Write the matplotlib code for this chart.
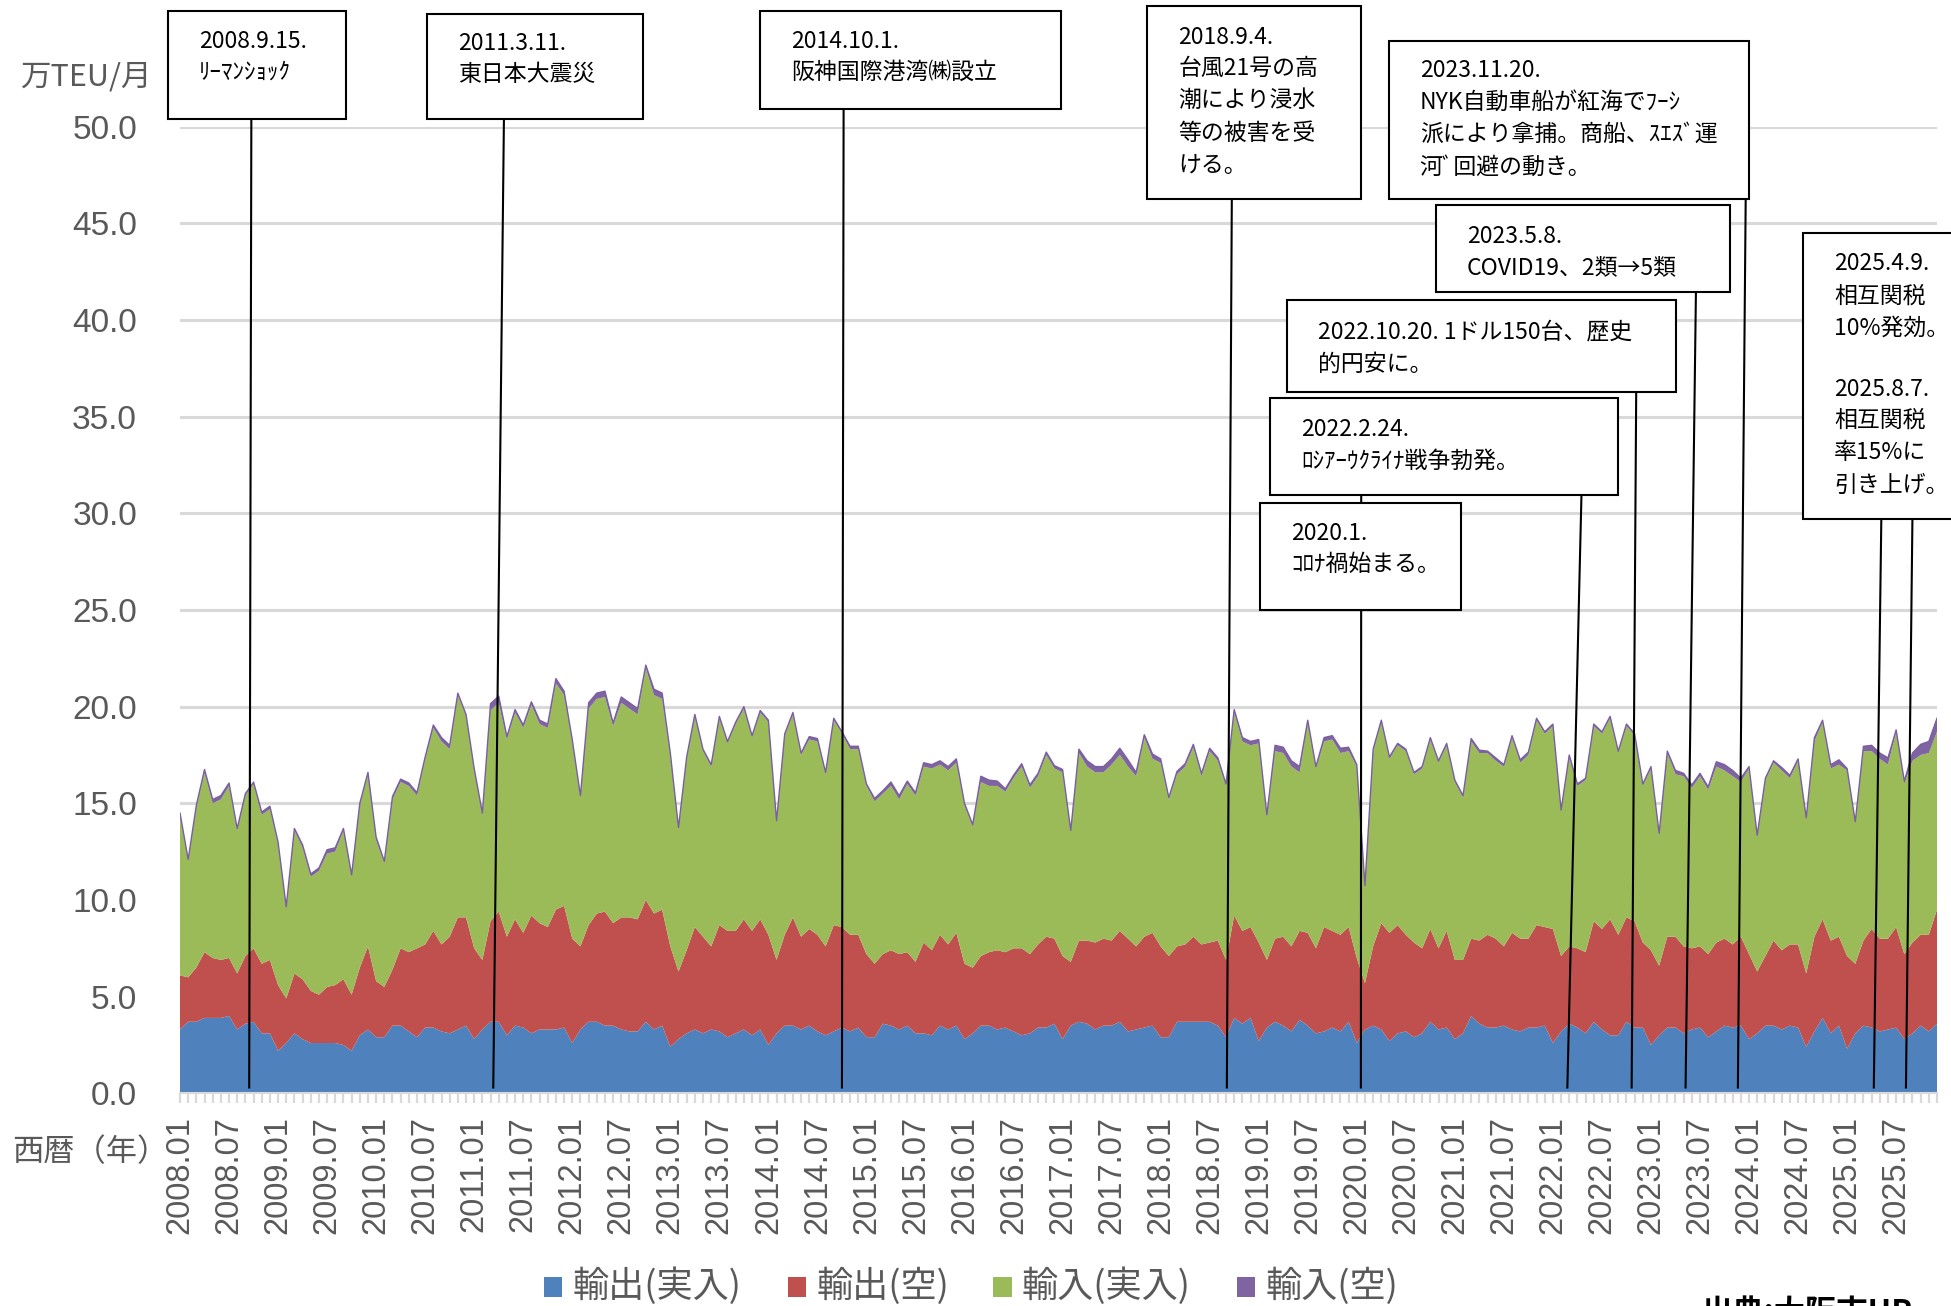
import matplotlib
matplotlib.use('Agg')
import matplotlib.pyplot as plt
from matplotlib.patches import Rectangle
from matplotlib.lines import Line2D
import numpy as np

plt.rcParams['font.family'] = ['Noto Sans CJK JP', 'DejaVu Sans']

# ---------------- data (万TEU/月) ----------------
months = [f"{y}.{m:02d}" for y in range(2008, 2026) for m in range(1, 13)]

export_full = [
    3.3, 3.7, 3.7, 3.9, 3.9, 3.9, 4.0, 3.3, 3.6, 3.7, 3.1, 3.1,
    2.2, 2.6, 3.1, 2.8, 2.6, 2.6, 2.6, 2.6, 2.5, 2.2, 3.0, 3.3,
    2.9, 2.9, 3.5, 3.5, 3.2, 2.9, 3.4, 3.4, 3.2, 3.1, 3.3, 3.5,
    2.8, 3.3, 3.7, 3.7, 3.0, 3.5, 3.4, 3.1, 3.3, 3.3, 3.3, 3.4,
    2.6, 3.3, 3.7, 3.7, 3.5, 3.5, 3.3, 3.2, 3.2, 3.7, 3.3, 3.5,
    2.4, 2.8, 3.1, 3.3, 3.1, 3.3, 3.2, 2.9, 3.1, 3.3, 3.0, 3.3,
    2.5, 3.1, 3.5, 3.5, 3.3, 3.5, 3.2, 3.0, 3.2, 3.4, 3.2, 3.4,
    2.9, 2.9, 3.6, 3.5, 3.3, 3.5, 3.1, 3.1, 3.0, 3.5, 3.3, 3.5,
    2.8, 3.1, 3.5, 3.5, 3.3, 3.4, 3.2, 3.0, 3.1, 3.4, 3.4, 3.6,
    2.8, 3.5, 3.7, 3.6, 3.3, 3.5, 3.5, 3.7, 3.2, 3.3, 3.4, 3.5,
    2.9, 2.9, 3.7, 3.7, 3.7, 3.7, 3.7, 3.5, 2.9, 3.9, 3.6, 3.9,
    2.7, 3.4, 3.7, 3.5, 3.2, 3.8, 3.5, 3.1, 3.2, 3.4, 3.2, 3.7,
    2.6, 3.3, 3.5, 3.3, 2.7, 3.1, 3.2, 2.9, 3.1, 3.7, 3.3, 3.4,
    2.8, 3.1, 4.0, 3.6, 3.4, 3.4, 3.5, 3.3, 3.2, 3.4, 3.4, 3.5,
    2.6, 3.2, 3.6, 3.4, 3.1, 3.7, 3.3, 3.0, 3.0, 3.7, 3.4, 3.4,
    2.5, 3.0, 3.4, 3.4, 3.1, 3.3, 3.4, 2.9, 3.2, 3.5, 3.4, 3.5,
    2.8, 3.1, 3.5, 3.5, 3.3, 3.5, 3.4, 2.4, 3.2, 3.9, 3.1, 3.5,
    2.3, 3.1, 3.5, 3.4, 3.2, 3.3, 3.4, 2.8, 3.1, 3.5, 3.2, 3.6,
]

export_empty = [
    2.8, 2.3, 2.8, 3.4, 3.1, 3.0, 3.0, 2.9, 3.5, 3.8, 3.6, 3.8,
    3.4, 2.3, 3.1, 3.1, 2.7, 2.5, 2.9, 3.0, 3.4, 2.9, 3.5, 4.3,
    2.9, 2.6, 2.9, 4.0, 4.1, 4.6, 4.3, 5.0, 4.5, 5.0, 5.8, 5.6,
    4.7, 3.6, 5.2, 5.7, 5.1, 5.5, 4.9, 6.1, 5.5, 5.3, 6.2, 6.3,
    5.4, 4.3, 5.0, 5.6, 5.9, 5.3, 5.8, 5.9, 5.8, 6.3, 6.0, 6.0,
    5.2, 3.5, 4.3, 5.3, 5.0, 4.3, 5.5, 5.5, 5.3, 5.7, 5.4, 5.7,
    5.7, 3.8, 4.7, 5.6, 4.8, 5.0, 5.0, 4.6, 5.5, 5.2, 5.0, 4.8,
    4.3, 3.8, 3.6, 3.9, 3.9, 3.8, 3.7, 4.7, 4.4, 4.7, 4.4, 4.8,
    3.9, 3.4, 3.6, 3.8, 4.1, 3.9, 4.3, 4.5, 4.1, 4.3, 4.7, 4.4,
    4.3, 3.3, 4.2, 4.3, 4.5, 4.5, 4.4, 4.7, 4.8, 4.3, 4.7, 4.8,
    4.7, 4.2, 3.9, 4.0, 4.4, 4.0, 4.1, 4.4, 4.0, 5.3, 4.8, 4.7,
    5.1, 3.5, 4.3, 4.6, 4.4, 4.6, 4.8, 4.4, 5.4, 5.0, 5.0, 4.9,
    4.4, 2.4, 4.1, 5.5, 5.6, 5.6, 5.0, 4.9, 4.4, 4.8, 4.2, 5.0,
    4.1, 3.8, 4.0, 4.3, 4.8, 4.6, 4.1, 5.0, 4.8, 4.6, 5.3, 5.1,
    5.9, 3.9, 4.0, 4.1, 4.2, 5.2, 5.2, 6.0, 5.2, 5.4, 5.5, 4.4,
    4.9, 3.6, 4.7, 4.7, 4.5, 4.2, 4.2, 4.3, 4.6, 4.5, 4.3, 4.6,
    4.4, 3.2, 3.6, 4.4, 4.1, 4.2, 4.3, 3.8, 4.9, 5.1, 4.8, 4.6,
    4.8, 3.6, 4.4, 5.1, 4.8, 4.7, 5.2, 4.4, 4.7, 4.7, 5.0, 5.9,
]

import_full = [
    8.3, 6.0, 8.3, 9.3, 8.0, 8.3, 8.9, 7.4, 8.3, 8.5, 7.7, 7.8,
    7.3, 4.7, 7.4, 6.8, 5.9, 6.4, 6.9, 6.9, 7.7, 6.1, 8.4, 8.9,
    7.3, 6.4, 8.8, 8.6, 8.6, 7.9, 9.6, 10.5, 10.5, 9.7, 11.5, 10.4,
    9.2, 7.5, 10.9, 10.8, 10.2, 10.7, 10.6, 10.9, 10.3, 10.3, 11.7, 10.9,
    10.2, 7.7, 11.2, 11.1, 11.1, 10.2, 11.1, 10.8, 10.6, 12.0, 11.3, 10.9,
    9.9, 7.4, 9.9, 10.9, 9.6, 9.3, 10.7, 9.7, 10.7, 10.9, 10.0, 10.7,
    11.0, 7.1, 10.3, 10.5, 9.4, 9.8, 10.0, 8.9, 10.6, 10.0, 9.6, 9.6,
    8.7, 8.4, 8.3, 8.5, 8.0, 8.7, 8.6, 9.1, 9.4, 8.8, 9.0, 8.8,
    8.2, 7.3, 9.0, 8.6, 8.5, 8.3, 8.8, 9.4, 8.6, 8.7, 9.4, 8.8,
    9.5, 6.7, 9.7, 9.0, 8.8, 8.6, 9.1, 9.1, 8.9, 8.8, 10.3, 9.0,
    9.5, 8.1, 8.9, 9.2, 9.8, 8.7, 9.9, 9.3, 9.0, 10.5, 9.8, 9.4,
    10.3, 7.4, 9.7, 9.5, 9.3, 8.2, 10.9, 9.3, 9.6, 9.9, 9.4, 9.1,
    9.9, 5.0, 10.1, 10.4, 9.0, 9.3, 9.5, 8.7, 9.3, 9.8, 9.6, 9.6,
    9.2, 8.4, 10.2, 9.7, 9.4, 9.2, 9.3, 10.1, 9.1, 9.5, 10.6, 10.0,
    10.5, 7.5, 9.8, 8.4, 8.9, 10.1, 10.1, 10.4, 9.4, 9.9, 9.6, 8.1,
    9.4, 6.8, 9.5, 8.4, 8.8, 8.3, 8.8, 8.5, 9.1, 8.7, 8.7, 8.0,
    9.6, 7.0, 9.1, 9.2, 9.3, 8.6, 9.5, 8.0, 10.1, 10.2, 8.9, 8.9,
    9.6, 7.3, 9.8, 9.2, 9.3, 9.0, 10.1, 8.8, 9.4, 9.3, 9.4, 9.2,
]

import_empty = [
    0.10, 0.10, 0.10, 0.15, 0.20, 0.20, 0.15, 0.10, 0.10, 0.10, 0.15, 0.15,
    0.10, 0.05, 0.10, 0.15, 0.15, 0.15, 0.20, 0.20, 0.10, 0.10, 0.10, 0.10,
    0.15, 0.10, 0.15, 0.15, 0.15, 0.15, 0.10, 0.15, 0.20, 0.20, 0.10, 0.10,
    0.10, 0.10, 0.35, 0.35, 0.15, 0.15, 0.15, 0.15, 0.20, 0.20, 0.25, 0.20,
    0.10, 0.10, 0.30, 0.30, 0.30, 0.15, 0.30, 0.30, 0.30, 0.15, 0.30, 0.30,
    0.10, 0.05, 0.10, 0.10, 0.10, 0.10, 0.10, 0.10, 0.10, 0.10, 0.10, 0.10,
    0.10, 0.10, 0.10, 0.10, 0.10, 0.15, 0.15, 0.10, 0.10, 0.10, 0.15, 0.15,
    0.10, 0.15, 0.15, 0.20, 0.20, 0.15, 0.15, 0.20, 0.20, 0.20, 0.20, 0.20,
    0.10, 0.10, 0.30, 0.30, 0.25, 0.15, 0.15, 0.15, 0.15, 0.15, 0.15, 0.15,
    0.15, 0.10, 0.20, 0.30, 0.30, 0.30, 0.30, 0.35, 0.35, 0.20, 0.15, 0.25,
    0.20, 0.10, 0.15, 0.15, 0.15, 0.15, 0.15, 0.15, 0.10, 0.15, 0.20, 0.20,
    0.20, 0.10, 0.30, 0.30, 0.30, 0.30, 0.10, 0.10, 0.20, 0.20, 0.25, 0.20,
    0.10, 0.05, 0.10, 0.10, 0.10, 0.10, 0.10, 0.10, 0.10, 0.10, 0.10, 0.10,
    0.10, 0.10, 0.15, 0.15, 0.10, 0.15, 0.10, 0.10, 0.15, 0.15, 0.10, 0.10,
    0.10, 0.05, 0.10, 0.10, 0.10, 0.10, 0.10, 0.10, 0.10, 0.10, 0.10, 0.10,
    0.10, 0.05, 0.10, 0.20, 0.15, 0.15, 0.15, 0.15, 0.25, 0.30, 0.30, 0.20,
    0.10, 0.05, 0.10, 0.10, 0.15, 0.15, 0.10, 0.05, 0.20, 0.10, 0.20, 0.25,
    0.10, 0.05, 0.25, 0.30, 0.30, 0.35, 0.10, 0.15, 0.40, 0.55, 0.60, 0.70,
]

series_names = ["輸出(実入)", "輸出(空)", "輸入(実入)", "輸入(空)"]
series_colors = ["#4F81BD", "#C0504D", "#9BBB59", "#8064A2"]

y_ticks = [0, 5, 10, 15, 20, 25, 30, 35, 40, 45, 50]
tick_step = 6

# events: (year, month, day), box, text lines, connector top points
events = [
    ((2008, 9, 15), (135, 9, 278, 96), [("2008.9.15.", 33), ("ﾘｰﾏﾝｼｮｯｸ", 58)], [(202, 96)]),
    ((2011, 3, 11), (343, 11, 517, 96), [("2011.3.11.", 35), ("東日本大震災", 60)], [(405, 96)]),
    ((2014, 10, 1), (611, 9, 853, 88), [("2014.10.1.", 33), ("阪神国際港湾㈱設立", 58)], [(678, 88)]),
    ((2018, 9, 4), (922, 5, 1094, 160),
     [("2018.9.4.", 30), ("台風21号の高", 55), ("潮により浸水", 81), ("等の被害を受", 107), ("ける。", 133)],
     [(990, 160)]),
    ((2023, 11, 20), (1116, 33, 1406, 160),
     [("2023.11.20.", 57), ("NYK自動車船が紅海でﾌｰｼ", 82), ("派により拿捕。商船、ｽｴｽﾞ運", 108), ("河ﾞ回避の動き。", 134)],
     [(1403, 160)]),
    ((2023, 5, 8), (1154, 165, 1390, 235), [("2023.5.8.", 190), ("COVID19、2類→5類", 215)], [(1363, 235)]),
    ((2022, 10, 20), (1034, 241, 1347, 315), [("2022.10.20. 1ドル150台、歴史", 267), ("的円安に。", 293)], [(1315, 315)]),
    ((2022, 2, 24), (1021, 320, 1300, 398), [("2022.2.24.", 345), ("ﾛｼｱｰｳｸﾗｲﾅ戦争勃発。", 371)], [(1271, 398)]),
    ((2020, 1, 16), (1013, 404, 1174, 490), [("2020.1.", 429), ("ｺﾛﾅ禍始まる。", 454)], [(1094, 398)]),
]
tariff_box = (1449, 187, 1610, 417)
tariff_text = [("2025.4.9.", 212), ("相互関税", 238), ("10%発効。", 264),
               ("2025.8.7.", 313), ("相互関税", 338), ("率15%に", 364), ("引き上げ。", 390)]
tariff_events = [((2025, 4, 9), (1512, 417)), ((2025, 8, 7), (1537, 417))]

# ---------------- figure ----------------
W, H = 1951, 1306
K = W / 1568.0          # layout below measured on a 1568-px-wide view
GRAY = "#595959"

fig = plt.figure(figsize=(W / 100, H / 100), dpi=100)
x0_px, x1_px, y0_px, y50_px = 180, 1937, 1093.3, 126.7
ax = fig.add_axes([x0_px / W, (H - y0_px) / H, (x1_px - x0_px) / W, (y0_px - y50_px) / H])

x = np.arange(len(months))
ax.stackplot(x, export_full, export_empty, import_full, import_empty,
             colors=series_colors, linewidth=0, zorder=2)
ax.plot(x, np.array(export_full) + np.array(export_empty) + np.array(import_full) + np.array(import_empty),
        color="#7A5FA0", lw=1.0, zorder=3)

ax.set_xlim(0, len(months) - 1)
ax.set_ylim(0, 50)
ax.set_yticks(y_ticks)
ax.set_yticklabels([f"{v:.1f}" for v in y_ticks], fontsize=24, color=GRAY,
                   family="Liberation Sans")
ax.yaxis.grid(True, color="#D9D9D9", linewidth=2.2, zorder=0)
ax.set_axisbelow(True)
for s in ["left", "top", "right"]:
    ax.spines[s].set_visible(False)
ax.spines["bottom"].set_color("#D9D9D9")
ax.spines["bottom"].set_linewidth(1.5)
ax.tick_params(axis="y", length=0, pad=31)

ax.set_xticks(x[::tick_step])
ax.set_xticklabels(months[::tick_step], rotation=90, fontsize=23.5, color=GRAY,
                   family="Liberation Sans")
ax.set_xticks(x, minor=True)
ax.tick_params(axis="x", which="both", length=7.5, width=1.6, color="#D9D9D9", pad=9)

fig.canvas.draw()
inv = fig.transFigure.inverted()


def fx(px):
    return px * K / W


def fy(py):
    return 1 - py * K / H


def event_pos(y, m, d):
    return (y - 2008) * 12 + (m - 1) + (d - 1) / 30.0


def connector(ev, top):
    bx, by = inv.transform(ax.transData.transform((ev, 0.3)))
    fig.add_artist(Line2D([bx, fx(top[0])], [by, fy(top[1])], transform=fig.transFigure,
                          color="black", lw=1.5, zorder=5))


def box(b):
    fig.add_artist(Rectangle((fx(b[0]), fy(b[3])), fx(b[2]) - fx(b[0]), fy(b[1]) - fy(b[3]),
                             transform=fig.transFigure, facecolor="white", edgecolor="black",
                             lw=1.5, zorder=6))


ANN_FS = 16.5
for (yy, mm, dd), b, lines, tops in events:
    for t in tops:
        connector(event_pos(yy, mm, dd), t)
    box(b)
    for s, ty in lines:
        fig.text(fx(b[0] + 25), fy(ty), s, fontsize=ANN_FS, va="center", ha="left", zorder=7)

for (yy, mm, dd), t in tariff_events:
    connector(event_pos(yy, mm, dd), t)
box(tariff_box)
for s, ty in tariff_text:
    fig.text(fx(tariff_box[0] + 25), fy(ty), s, fontsize=ANN_FS, va="center", ha="left", zorder=7)

# axis captions
fig.text(fx(17), fy(62), "万TEU/月", fontsize=22, color=GRAY, va="center", ha="left")
fig.text(12 / W, 1 - 1152 / H, "西暦（年）", fontsize=22.5, color=GRAY, va="center", ha="left")

# legend
leg_sq = [437, 633, 798, 994]
leg_tx = [460, 656, 821, 1017]
for name, col, sq, tx in zip(series_names, series_colors, leg_sq, leg_tx):
    fig.add_artist(Rectangle((fx(sq), fy(1042)), fx(15), fy(1026) - fy(1042),
                             transform=fig.transFigure, facecolor=col, edgecolor="none"))
    fig.text(fx(tx), fy(1034), name, fontsize=26, color=GRAY, va="center", ha="left")

# source (cut at the bottom edge as in the reference)
fig.text(fx(1368), -0.012, "出典:大阪市HP", fontsize=22.5, fontweight="bold",
         color="black", va="baseline", ha="left")

fig.savefig("out.png", dpi=100)
